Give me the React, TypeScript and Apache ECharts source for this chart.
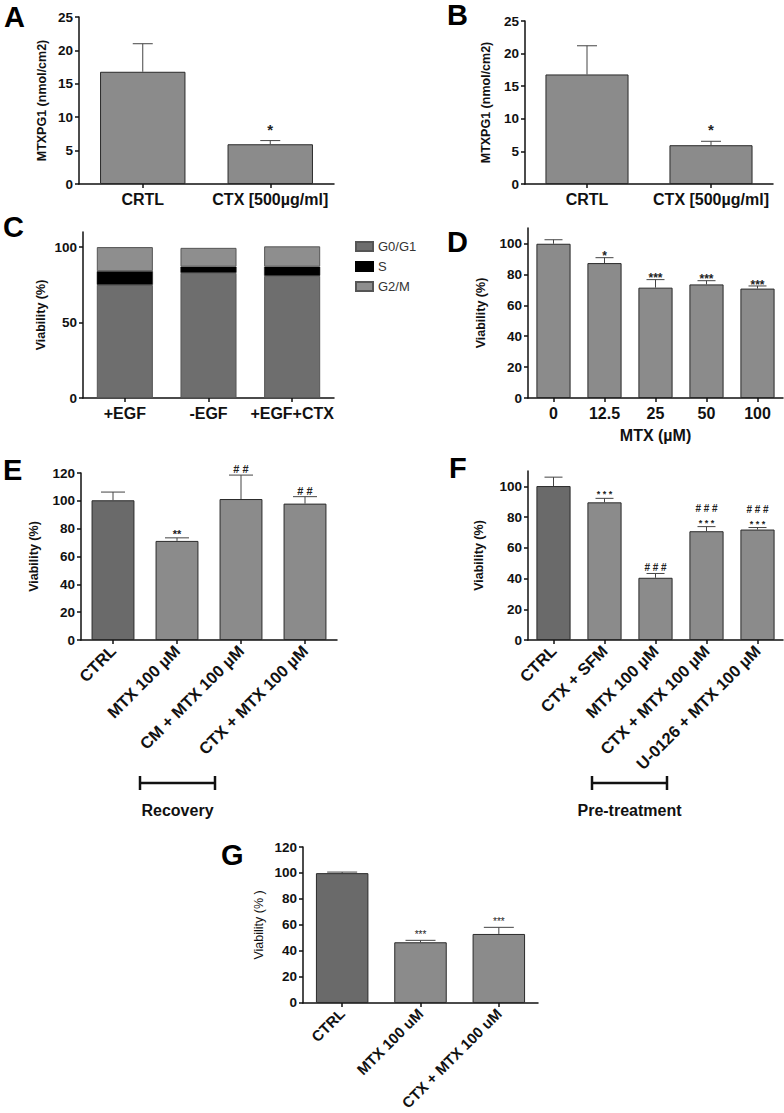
import React, { useEffect, useRef } from 'react';
import * as echarts from 'echarts';

const FONT = '"Liberation Sans", Arial, Helvetica, sans-serif';

// ---------- Panel A ----------
const catsA = ['CRTL', 'CTX [500µg/ml]'];
const meanA = [16.8, 5.95];
const errA = [21.0, 6.5];
const annA = ['', '*'];
// ---------- Panel B ----------
const catsB = ['CRTL', 'CTX [500µg/ml]'];
const meanB = [16.8, 5.95];
const errB = [21.2, 6.55];
const annB = ['', '*'];
// ---------- Panel C ----------
const catsC = ['+EGF', '-EGF', '+EGF+CTX'];
const phaseNamesC = ['G0/G1', 'S', 'G2/M'];
const g0g1C = [75, 83, 81];
const sC = [9, 4, 6];
const g2mC = [16, 12.5, 13.5];
const ticksC = [0, 50, 100];
// ---------- Panel D ----------
const catsD = ['0', '12.5', '25', '50', '100'];
const meanD = [99.8, 87.3, 71.4, 73.5, 70.8];
const errD = [102.4, 90.8, 76.6, 75.9, 72.5];
const annD = ['', '*', '***', '***', '***'];
const ticksD = [0, 20, 40, 60, 80, 100];
// ---------- Panel E ----------
const catsE = ['CTRL', 'MTX 100 µM', 'CM + MTX 100 µM', 'CTX + MTX 100 µM'];
const meanE = [100.4, 71.2, 101.3, 98.0];
const errE = [106.3, 73.4, 118.5, 103.0];
const annE = ['', '**', '# #', '# #'];
// ---------- Panel F ----------
const catsF = ['CTRL', 'CTX + SFM', 'MTX 100 µM', 'CTX + MTX 100 µM', 'U-0126 + MTX 100 µM'];
const meanF = [100.2, 89.6, 40.5, 70.8, 71.9];
const errF = [106.0, 92.2, 43.3, 73.8, 73.2];
const annF = ['', '* * *', '# # #', '# # #\n* * *', '# # #\n* * *'];
const ticksF = [0, 20, 40, 60, 80, 100];
// ---------- Panel G ----------
const catsG = ['CTRL', 'MTX 100 uM', 'CTX + MTX 100 uM'];
const meanG = [99.9, 46.7, 53.1];
const errG = [100.7, 48.2, 58.2];
const annG = ['', '***', '***'];

const BAR = '#8b8b8b';
const BAR_DARK = '#6a6a6a';
const EDGE = '#2a2a2a';
const INK = '#111';

function errSeries(gi: number, means: number[], errs: number[], ann: string[], o: any) {
  return {
    type: 'custom',
    xAxisIndex: gi,
    yAxisIndex: gi,
    z: 5,
    silent: true,
    data: means.map((m, i) => [i, m, errs[i]]),
    encode: { x: 0, y: [1, 2] },
    renderItem: (params: any, api: any) => {
      const i = api.value(0);
      const m = api.value(1);
      const t = api.value(2);
      const p0 = api.coord([i, m]);
      const p1 = api.coord([i, t]);
      const children: any[] = [
        { type: 'line', shape: { x1: p0[0], y1: p0[1], x2: p1[0], y2: p1[1] }, style: { stroke: '#444', lineWidth: 1 } },
        { type: 'line', shape: { x1: p1[0] - o.cap, y1: p1[1], x2: p1[0] + o.cap, y2: p1[1] }, style: { stroke: '#444', lineWidth: 1 } },
      ];
      const lines = (ann[params.dataIndex] || '').split('\n').filter(Boolean).reverse();
      lines.forEach((txt: string, k: number) => {
        const isStar = txt.indexOf('*') >= 0;
        const fs = isStar ? o.starSize : o.hashSize;
        const center = p1[1] - o.dy - k * o.lineGap;
        const y = isStar ? center + 0.23 * fs : center;
        children.push({
          type: 'text',
          x: p1[0],
          y,
          style: {
            text: txt,
            font: `${o.weight || 'bold'} ${fs}px ${FONT}`,
            fill: '#222',
            align: 'center',
            verticalAlign: 'middle',
            textAlign: 'center',
            textVerticalAlign: 'middle',
          },
        });
      });
      return { type: 'group', children };
    },
  };
}

function barSeries(gi: number, means: number[], darkFirst: boolean) {
  return {
    type: 'bar',
    xAxisIndex: gi,
    yAxisIndex: gi,
    barCategoryGap: '33%',
    silent: true,
    data: means.map((v, i) => ({
      value: v,
      itemStyle: { color: darkFirst && i === 0 ? BAR_DARK : BAR },
    })),
    itemStyle: { borderColor: EDGE, borderWidth: 1 },
  };
}

function xAx(gi: number, cats: string[], o: any) {
  return {
    type: 'category',
    gridIndex: gi,
    data: cats,
    axisLine: { show: true, lineStyle: { color: INK, width: 1.5 } },
    axisTick: { show: true, alignWithLabel: true, length: 4, lineStyle: { color: INK, width: 1.5 } },
    axisLabel: {
      interval: 0,
      rotate: o.rotate || 0,
      margin: o.margin,
      color: INK,
      fontFamily: FONT,
      fontWeight: 'bold',
      fontSize: o.fontSize,
    },
    splitLine: { show: false },
    name: o.name || '',
    nameLocation: 'middle',
    nameGap: o.nameGap || 0,
    nameTextStyle: { color: INK, fontFamily: FONT, fontWeight: 'bold', fontSize: 16 },
  };
}

function yAx(gi: number, max: number, o: any) {
  const ax: any = {
    type: 'value',
    gridIndex: gi,
    min: 0,
    max,
    axisLine: { show: true, lineStyle: { color: INK, width: 1.5 } },
    axisTick: { show: true, length: 4, lineStyle: { color: INK, width: 1.5 } },
    axisLabel: { margin: 6, color: INK, fontFamily: FONT, fontWeight: 'bold', fontSize: 13.5 },
    splitLine: { show: false },
    name: o.name,
    nameLocation: 'middle',
    nameGap: o.nameGap,
    nameTextStyle: { color: INK, fontFamily: FONT, fontWeight: o.nameWeight || 'bold', fontSize: 12.5 },
  };
  if (o.ticks) {
    ax.axisTick.customValues = o.ticks;
    ax.axisLabel.customValues = o.ticks;
  } else {
    ax.interval = o.interval;
  }
  return ax;
}

function letter(text: string, x: number, y: number) {
  return {
    type: 'text',
    x,
    y,
    style: {
      text,
      font: `bold 29px ${FONT}`,
      fill: '#000',
      align: 'left',
      verticalAlign: 'middle',
      textAlign: 'left',
      textVerticalAlign: 'middle',
    },
  };
}

function bracket(x1: number, x2: number, y: number, label: string, ly: number) {
  const st = { stroke: '#111', lineWidth: 2.5 };
  return {
    type: 'group',
    children: [
      { type: 'line', shape: { x1, y1: y, x2, y2: y }, style: st },
      { type: 'line', shape: { x1, y1: y - 7, x2: x1, y2: y + 7 }, style: st },
      { type: 'line', shape: { x1: x2, y1: y - 7, x2, y2: y + 7 }, style: st },
      {
        type: 'text',
        x: (x1 + x2) / 2,
        y: ly,
        style: {
          text: label,
          font: `bold 16px ${FONT}`,
          fill: '#111',
          align: 'center',
          verticalAlign: 'middle',
          textAlign: 'center',
          textVerticalAlign: 'middle',
        },
      },
    ],
  };
}

export default function App() {
  const ref = useRef<HTMLDivElement>(null);
  useEffect(() => {
    if (!ref.current) return;
    const chart = echarts.init(ref.current, undefined, { renderer: 'svg' });
    const grids = [
      { left: 79, top: 17, width: 255, height: 167 }, // A
      { left: 525, top: 21, width: 248, height: 163 }, // B
      { left: 83, top: 232, width: 251, height: 166 }, // C
      { left: 528, top: 228, width: 255, height: 170 }, // D
      { left: 81, top: 473, width: 256, height: 167 }, // E
      { left: 528, top: 471, width: 255, height: 169 }, // F
      { left: 303, top: 847, width: 235, height: 157 }, // G
    ];
    const option: any = {
      animation: false,
      backgroundColor: '#fff',
      grid: grids.map((g) => ({ ...g, containLabel: false })),
      legend: {
        data: phaseNamesC,
        left: 350,
        top: 235,
        orient: 'vertical',
        itemWidth: 17,
        itemHeight: 9,
        itemGap: 7,
        icon: 'rect',
        textStyle: { fontFamily: FONT, fontSize: 13, color: '#333' },
      },
      xAxis: [
        xAx(0, catsA, { fontSize: 16, margin: 7 }),
        xAx(1, catsB, { fontSize: 16, margin: 7 }),
        xAx(2, catsC, { fontSize: 16, margin: 7 }),
        xAx(3, catsD, { fontSize: 16, margin: 7, name: 'MTX (µM)', nameGap: 29 }),
        xAx(4, catsE, { fontSize: 16.5, margin: 8, rotate: 45 }),
        xAx(5, catsF, { fontSize: 16.5, margin: 8, rotate: 45 }),
        xAx(6, catsG, { fontSize: 15, margin: 8, rotate: 45 }),
      ],
      yAxis: [
        yAx(0, 25, { interval: 5, name: 'MTXPG1 (nmol/cm2)', nameGap: 31 }),
        yAx(1, 25, { interval: 5, name: 'MTXPG1 (nmol/cm2)', nameGap: 33 }),
        yAx(2, 110, { ticks: ticksC, name: 'Viability (%)', nameGap: 36 }),
        yAx(3, 110, { ticks: ticksD, name: 'Viability (%)', nameGap: 41 }),
        yAx(4, 120, { interval: 20, name: 'Viability (%)', nameGap: 41 }),
        yAx(5, 110, { ticks: ticksF, name: 'Viability (%)', nameGap: 43 }),
        yAx(6, 120, { interval: 20, name: 'Viability (% )', nameGap: 38, nameWeight: 'normal' }),
      ],
      series: [
        barSeries(0, meanA, false),
        errSeries(0, meanA, errA, annA, { cap: 10, dy: 15, starSize: 15, hashSize: 12, lineGap: 12 }),
        barSeries(1, meanB, false),
        errSeries(1, meanB, errB, annB, { cap: 10, dy: 15, starSize: 15, hashSize: 12, lineGap: 12 }),
        {
          type: 'bar', name: phaseNamesC[0], stack: 'c', xAxisIndex: 2, yAxisIndex: 2, barCategoryGap: '33%',
          data: g0g1C, itemStyle: { color: '#6e6e6e', borderColor: '#555', borderWidth: 1 }, silent: true,
        },
        {
          type: 'bar', name: phaseNamesC[1], stack: 'c', xAxisIndex: 2, yAxisIndex: 2, barCategoryGap: '33%',
          data: sC, itemStyle: { color: '#000', borderColor: '#000', borderWidth: 0.5 }, silent: true,
        },
        {
          type: 'bar', name: phaseNamesC[2], stack: 'c', xAxisIndex: 2, yAxisIndex: 2, barCategoryGap: '33%',
          data: g2mC, itemStyle: { color: '#8e8e8e', borderColor: '#555', borderWidth: 1 }, silent: true,
        },
        barSeries(3, meanD, false),
        errSeries(3, meanD, errD, annD, { cap: 9, dy: 4, starSize: 12, hashSize: 11, lineGap: 12 }),
        barSeries(4, meanE, true),
        errSeries(4, meanE, errE, annE, { cap: 12, dy: 6, starSize: 11, hashSize: 11, lineGap: 12 }),
        barSeries(5, meanF, true),
        errSeries(5, meanF, errF, annF, { cap: 9, dy: 6, starSize: 9, hashSize: 10, lineGap: 12 }),
        barSeries(6, meanG, true),
        errSeries(6, meanG, errG, annG, { cap: 15, dy: 8, starSize: 10, hashSize: 10, lineGap: 12, weight: 'normal' }),
      ],
      graphic: [
        letter('A', 4, 17),
        letter('B', 447, 15),
        letter('C', 3, 227),
        letter('D', 447, 242),
        letter('E', 3, 470),
        letter('F', 449, 468),
        letter('G', 221, 855),
        bracket(140, 215, 783, 'Recovery', 810),
        bracket(592, 667, 783, 'Pre-treatment', 810),
      ],
    };
    chart.setOption(option);
    return () => chart.dispose();
  }, []);
  return (
    <div
      ref={ref}
      style={{ position: 'absolute', left: 0, top: 0, width: 784, height: 1113, background: '#fff' }}
    />
  );
}
